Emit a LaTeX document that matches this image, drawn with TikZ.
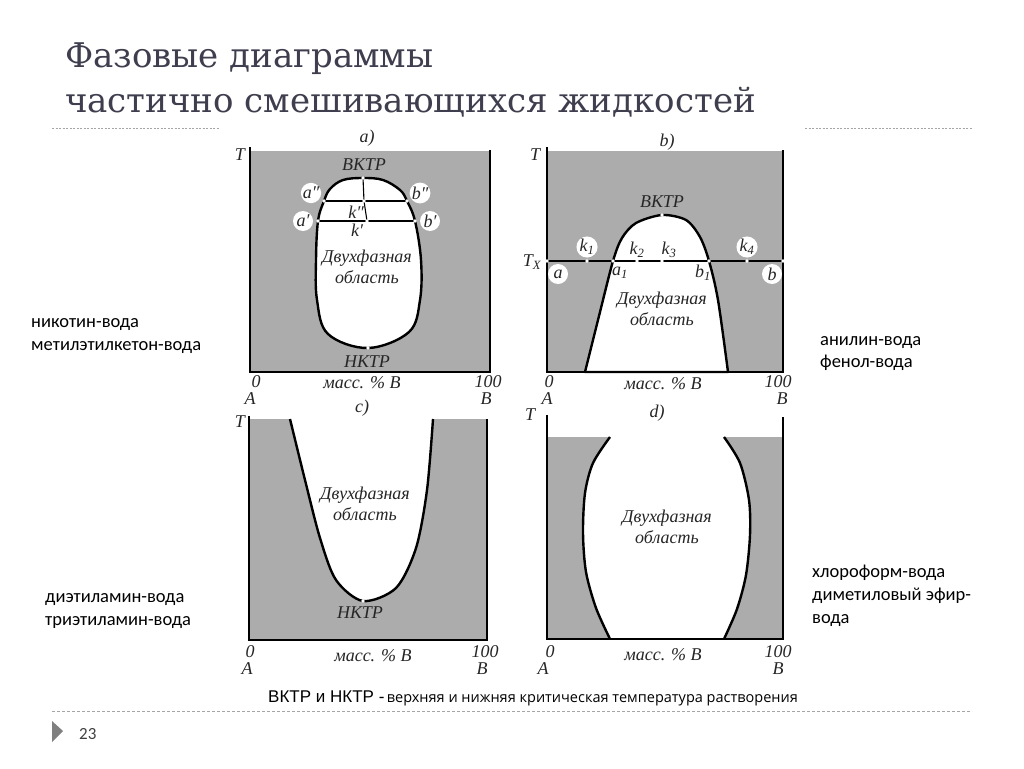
\documentclass[tikz,border=0pt]{standalone}
\usepackage{fontspec}
\setmainfont{Liberation Serif}
\newfontfamily\titlefont{DejaVu Serif}
\newfontfamily\bodyfont{Carlito}
\newfontfamily\notefont{Liberation Sans}
\newfontfamily\smallnotefont{Open Sans}
\usetikzlibrary{positioning}
\definecolor{phasegray}{RGB}{172,172,172}
\definecolor{titlecol}{RGB}{62,62,78}
\definecolor{rulegray}{RGB}{165,165,165}
\definecolor{markgray}{RGB}{128,128,128}
\tikzset{
  phase/.style={fill=phasegray},
  boundary/.style={draw=black, line width=2.4pt, line join=round},
  axis/.style={draw=black, line width=1.2pt},
  tie/.style={draw=black, line width=1.1pt},
  fig/.style={font=\fontsize{18}{20}\selectfont\itshape, inner sep=0pt, text=black!85},
  ring/.style={fig, fill=white, circle, minimum size=20pt},
  side/.style={font=\bodyfont\fontsize{18.5}{22}\selectfont, anchor=base west, inner sep=0pt},
}
\begin{document}
\begin{tikzpicture}[x=1pt,y=-1pt]
\useasboundingbox (0,0) rectangle (1024,768);
\fill[white] (0,0) rectangle (1024,768);

% title and rules
\node[anchor=base west, inner sep=0pt, text=titlecol, font=\titlefont\fontsize{34}{40}\selectfont] (title1) at (65,67) {Фазовые диаграммы};
\node[anchor=base west, inner sep=0pt, text=titlecol, font=\titlefont\fontsize{34}{40}\selectfont] (title2) at (65,112) {частично смешивающихся жидкостей};
\draw[rulegray, line width=1pt, dash pattern=on 2pt off 1.5pt] (52,128) -- (220,128);
\draw[rulegray, line width=1pt, dash pattern=on 2pt off 1.5pt] (805,128) -- (972,128);
\draw[rulegray, line width=1pt, dash pattern=on 3pt off 2pt] (52,711) -- (972,711);
\fill[markgray] (52,721) -- (63,731) -- (52,742) -- cycle;
\node[side, font=\bodyfont\fontsize{17}{20}\selectfont, text=black!75] (page) at (79,739) {23};

% panel a
\fill[phase] (250,151) rectangle (490,372);
\filldraw[fill=white, boundary] plot[smooth cycle, tension=0.6] coordinates {(363,178) (383,180) (400,190) (407,201) (415,221) (421,260) (420,300) (409,332) (368,348) (328,334) (317,300) (316,260) (318,221) (324,201) (330,189) (343,180)};
\draw[axis] (250,147) -- (250,372) -- (490,372) -- (490,150);
\coordinate (ucst) at (363,178);
\coordinate (lcst) at (368,348);
\coordinate (a2) at (324,201);
\coordinate (b2) at (407,201);
\coordinate (a1) at (318,221);
\coordinate (b1) at (415,221);
\coordinate (k2) at (364,201);
\coordinate (k1) at (367,221);
\draw[tie] (a2) -- (b2);
\draw[tie] (a1) -- (b1);
\draw[tie] (ucst) -- (k2) -- (k1);
\foreach \p in {ucst,lcst,a2,b2,a1,b1,k2,k1}
  \fill[white] (\p) circle (1.8);
\node[fig] (vktra) at (364,165) {ВКТР};
\node[fig] (nktra) at (367,362) {НКТР};
\node[ring] (la2) at (311,193) {a″};
\node[ring] (lb2) at (420,193) {b″};
\node[ring] (la1) at (303,221) {a′};
\node[ring] (lb1) at (430,221) {b′};
\node[fig] (lk2) at (356,212) {k″};
\node[fig] (lk1) at (357,230) {k′};
\node[fig] (twoa) at (367,258) {Двухфазная};
\node[fig, below=4pt of twoa] (obla) {область};
\node[fig] (capa) at (367,138) {a)};
\node[fig] (ta) at (240,155) {T};
\node[fig] (zeroa) at (256,382) {0};
\node[fig] (aa) at (250,399) {A};
\node[fig] (fulla) at (488,382) {100};
\node[fig] (ba) at (486,399) {B};
\node[fig] (massa) at (362,383) {масс. \% B};

% panel b
\fill[phase] (547,151) rectangle (783,372);
\filldraw[fill=white, boundary] plot[smooth] coordinates {(585,372) (599,316) (613,261) (622,238) (636,223) (662,215) (686,220) (700,237) (709,261) (718,300) (728,372)} -- cycle;
\draw[axis] (547,147) -- (547,372) -- (783,372) -- (783,150);
\coordinate (crit) at (662,215);
\coordinate (ta0) at (547,261);
\coordinate (tk1) at (587,261);
\coordinate (ta1) at (613,261);
\coordinate (tk2) at (637,261);
\coordinate (tk3) at (662,261);
\coordinate (tb1) at (709,261);
\coordinate (tk4) at (747,261);
\coordinate (tb0) at (783,261);
\draw[tie] (ta0) -- (tb0);
\foreach \p in {crit,ta0,tk1,ta1,tk2,tk3,tb1,tk4,tb0}
  \fill[white] (\p) circle (1.8);
\node[fig] (vktrb) at (662,202) {ВКТР};
\node[ring] (lk1b) at (587,247) {k\textsubscript{1}};
\node[fig] (lk2b) at (637,250) {k\textsubscript{2}};
\node[fig] (lk3b) at (669,250) {k\textsubscript{3}};
\node[ring] (lk4b) at (747,247) {k\textsubscript{4}};
\node[ring] (lab) at (558,274) {a};
\node[ring] (lbb) at (772,274) {b};
\node[fig] (la1b) at (620,273) {a\textsubscript{1}};
\node[fig] (lb1b) at (703,273) {b\textsubscript{1}};
\node[fig] (tx) at (532,262) {T\textsubscript{X}};
\node[fig] (twob) at (662,300) {Двухфазная};
\node[fig, below=4pt of twob] (oblb) {область};
\node[fig] (capb) at (667,142) {b)};
\node[fig] (tb) at (535,155) {T};
\node[fig] (zerob) at (549,382) {0};
\node[fig] (ab) at (547,399) {A};
\node[fig] (fullb) at (778,382) {100};
\node[fig] (bb) at (782,399) {B};
\node[fig] (massb) at (663,384) {масс. \% B};

% panel c
\fill[phase] (249,419) rectangle (487,640);
\fill[white] plot[smooth] coordinates {(290,419) (305,480) (320,538) (336,580) (363,601) (396,588) (416,548) (427,490) (433,419)} -- cycle;
\draw[boundary] plot[smooth] coordinates {(290,419) (305,480) (320,538) (336,580) (363,601) (396,588) (416,548) (427,490) (433,419)};
\draw[axis] (249,416) -- (249,640) -- (487,640) -- (487,419);
\coordinate (lcstc) at (363,601);
\fill[white] (lcstc) circle (1.8);
\node[fig] (twoc) at (365,495) {Двухфазная};
\node[fig, below=4pt of twoc] (oblc) {область};
\node[fig] (nktrc) at (360,613) {НКТР};
\node[fig] (capc) at (362,408) {c)};
\node[fig] (tc) at (240,422) {T};
\node[fig] (zeroc) at (250,652) {0};
\node[fig] (ac) at (247,669) {A};
\node[fig] (fullc) at (485,652) {100};
\node[fig] (bc) at (482,669) {B};
\node[fig] (massc) at (373,656) {масс. \% B};

% panel d
\fill[phase] (547,437) -- plot[smooth] coordinates {(610,437) (593,463) (585,493) (583,533) (586,572) (596,608) (610,639)} -- (547,639) -- cycle;
\fill[phase] (783,437) -- plot[smooth] coordinates {(724,437) (740,463) (749,500) (750,535) (746,575) (737,609) (724,639)} -- (783,639) -- cycle;
\draw[boundary] plot[smooth] coordinates {(610,437) (593,463) (585,493) (583,533) (586,572) (596,608) (610,639)};
\draw[boundary] plot[smooth] coordinates {(724,437) (740,463) (749,500) (750,535) (746,575) (737,609) (724,639)};
\draw[axis] (547,415) -- (547,639) -- (783,639) -- (783,417);
\node[fig] (twod) at (667,518) {Двухфазная};
\node[fig, below=4pt of twod] (obld) {область};
\node[fig] (capd) at (657,413) {d)};
\node[fig] (td) at (530,415) {T};
\node[fig] (zerod) at (550,652) {0};
\node[fig] (ad) at (543,669) {A};
\node[fig] (fulld) at (778,652) {100};
\node[fig] (bd) at (778,669) {B};
\node[fig] (massd) at (663,655) {масс. \% B};

% side notes
\node[side] (nic) at (31,327) {никотин-вода};
\node[side] (met) at ([yshift=-23pt]nic.base west) {метилэтилкетон-вода};
\node[side] (ani) at (820,345) {анилин-вода};
\node[side] (phe) at ([yshift=-22pt]ani.base west) {фенол-вода};
\node[side] (die) at (45,602) {диэтиламин-вода};
\node[side] (tri) at ([yshift=-23pt]die.base west) {триэтиламин-вода};
\node[side] (chl) at (812,577) {хлороформ-вода};
\node[side] (dim) at ([yshift=-23pt]chl.base west) {диметиловый эфир-};
\node[side] (wat) at ([yshift=-23pt]dim.base west) {вода};

% footnote
\node[anchor=base west, inner sep=0pt] (note) at (268,702) {{\notefont\fontsize{17}{20}\selectfont ВКТР и НКТР -} {\smallnotefont\fontsize{14.5}{17}\selectfont верхняя и нижняя критическая температура растворения}};
\end{tikzpicture}
\end{document}
